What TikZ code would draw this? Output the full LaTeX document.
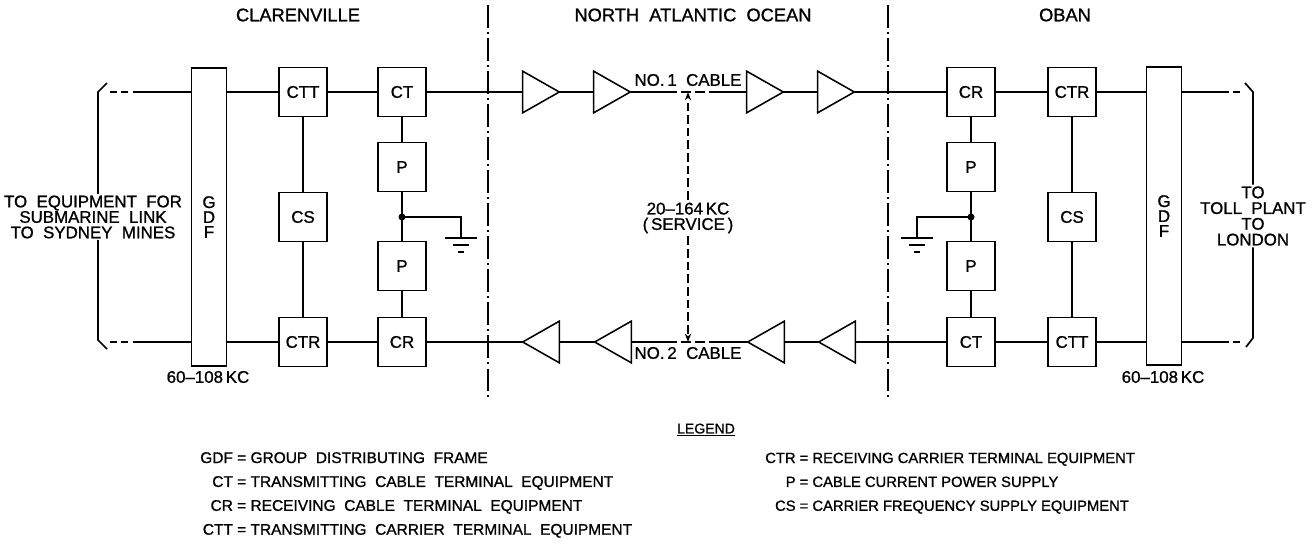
\documentclass[tikz,border=0pt]{standalone}
\usepackage{fontspec}
\setmainfont{Liberation Sans}[FakeBold=1]
\usetikzlibrary{calc,arrows.meta}
\def\earth(#1){\draw[line width=1.2pt] ($(#1)+(-16,0)$) -- ++(32,0) ($(#1)+(-8,7)$) -- ++(16,0) ($(#1)+(-3,14)$) -- ++(6,0);}

\begin{document}
\begin{tikzpicture}[x=0.025cm, y=-0.025cm,
		box/.style={draw, line width=1.2pt, minimum width=1.2cm, minimum height=1.22cm, inner sep=0pt, font=\fontsize{12}{14}\selectfont},
		gdf/.style={draw, line width=1.2pt, minimum width=0.88cm, minimum height=7.45cm, inner sep=0pt, align=center, font=\fontsize{12}{10.6}\selectfont},
		amp/.style={minimum width=0.9cm, minimum height=1.025cm, inner sep=0pt},
		tri/.style={line width=1.1pt, line join=miter},
		cable/.style={line width=1.7pt},
		wire/.style={line width=1.5pt},
		brk/.style={line width=1.2pt},
		divider/.style={line width=1pt, dash pattern=on 16pt off 3pt on 1.5pt off 3pt},
		lbl/.style={font=\fontsize{12}{11}\selectfont, align=center, inner sep=1pt},
		title/.style={font=\fontsize{13}{15}\selectfont},
		legend/.style={font=\fontsize{11}{17}\selectfont, inner sep=0pt, anchor=north west}]
			%%%%% START %%%%%
			\useasboundingbox (0,0) rectangle (1315,547);
			
			\node[title] (clar) at (298,15) {CLARENVILLE};
			\node[title] (ocean) at (693,15) {NORTH\ \ ATLANTIC\ \ OCEAN};
			\node[title] (oban) at (1065,15) {OBAN};
			
			\draw[divider] (488,5) -- (488,398);
			\draw[divider] (888,5) -- (888,398);
			
			% clarenville
			\node[gdf] (gdfL) at (209,217) {G\\D\\F};
			\node[box] (cttL) at (303,92) {CTT};
			\node[box] (ctL) at (402,92) {CT};
			\node[box] (csL) at (303,217) {CS};
			\node[box] (p1L) at (402,167) {P};
			\node[box] (p2L) at (402,266) {P};
			\node[box] (ctrL) at (303,342) {CTR};
			\node[box] (crL) at (402,342) {CR};
			\node[lbl] (kcL) at (208,377) {60--108\,KC};
			
			% oban
			\node[gdf] (gdfR) at (1164,216) {G\\D\\F};
			\node[box] (crR) at (971,92) {CR};
			\node[box] (ctrR) at (1072,92) {CTR};
			\node[box] (p1R) at (971,167) {P};
			\node[box] (p2R) at (971,266) {P};
			\node[box] (csR) at (1072,217) {CS};
			\node[box] (ctR) at (971,342) {CT};
			\node[box] (cttR) at (1072,342) {CTT};
			\node[lbl] (kcR) at (1163,377) {60--108\,KC};
			
			% repeaters
			\node[amp] (a1) at (541,92) {};
			\node[amp] (a2) at (612,92) {};
			\node[amp] (a3) at (765,92) {};
			\node[amp] (a4) at (836,92) {};
			\node[amp] (b1) at (541,342) {};
			\node[amp] (b2) at (613,342) {};
			\node[amp] (b3) at (766,342) {};
			\node[amp] (b4) at (837,342) {};
			\foreach \n in {a1,a2,a3,a4}
				\draw[tri] (\n.north west) -- (\n.east) -- (\n.south west) -- cycle;
			\foreach \n in {b1,b2,b3,b4}
				\draw[tri] (\n.north east) -- (\n.west) -- (\n.south east) -- cycle;
			
			\coordinate (d1) at (667,92);
			\coordinate (d2) at (713,92);
			\coordinate (d3) at (667,342);
			\coordinate (d4) at (713,342);
			
			\node[lbl] (no1) at (688,80) {NO.\,1\ \ CABLE};
			\node[lbl] (no2) at (688,353) {NO.\,2\ \ CABLE};
			\node[lbl, inner sep=2pt] (svc) at (688,218) {20--164\,KC\\(\,SERVICE\,)};
			
			% end texts
			\node[lbl] (eqL) at (93,217) {TO\ \ EQUIPMENT\ \ FOR\\SUBMARINE\ \ LINK\\TO\ \ SYDNEY\ \ MINES};
			\node[lbl, font=\fontsize{12}{11.2}\selectfont] (tollR) at (1253,216) {TO\\TOLL\ \ PLANT\\TO\\LONDON};
			
			\coordinate (tl1) at (110,92);
			\coordinate (tl2) at (137,92);
			\coordinate (bl1) at (110,342);
			\coordinate (bl2) at (137,342);
			\coordinate (tr1) at (1243,92);
			\coordinate (tr2) at (1222,92);
			\coordinate (br1) at (1243,342);
			\coordinate (br2) at (1222,342);
			
			% no.1 cable
			\draw[cable, dash pattern=on 5pt off 3pt] (tl1) -- (tl2);
			\draw[cable] (tl2) -- (tl2 -| gdfL.west);
			\draw[cable] (gdfL.east |- cttL) -- (cttL) -- (ctL) -- (a1) -- (a2) -- (d1);
			\draw[cable, dash pattern=on 7pt off 3pt] (d1) -- (d2);
			\draw[cable] (d2) -- (a3) -- (a4) -- (crR) -- (ctrR) -- (ctrR -| gdfR.west);
			\draw[cable] (gdfR.east |- tr2) -- (tr2);
			\draw[cable, dash pattern=on 5pt off 3pt] (tr2) -- (tr1);
			
			% no.2 cable
			\draw[cable, dash pattern=on 5pt off 3pt] (bl1) -- (bl2);
			\draw[cable] (bl2) -- (bl2 -| gdfL.west);
			\draw[cable] (gdfL.east |- ctrL) -- (ctrL) -- (crL) -- (b1) -- (b2) -- (d3);
			\draw[cable, dash pattern=on 7pt off 3pt] (d3) -- (d4);
			\draw[cable] (d4) -- (b3) -- (b4) -- (ctR) -- (cttR) -- (cttR -| gdfR.west);
			\draw[cable] (gdfR.east |- br2) -- (br2);
			\draw[cable, dash pattern=on 5pt off 3pt] (br2) -- (br1);
			
			% verticals
			\draw[wire] (cttL) -- (csL) -- (ctrL);
			\draw[wire] (ctL) -- (p1L) -- (p2L) -- (crL);
			\draw[wire] (crR) -- (p1R) -- (p2R) -- (ctR);
			\draw[wire] (ctrR) -- (csR) -- (cttR);
			
			% power supply earths
			\coordinate (jL) at (402,217);
			\coordinate (gL) at (461,238);
			\fill (jL) circle (3.5);
			\draw[wire] (jL) -- (gL |- jL) -- (gL);
			\earth(gL)
			\coordinate (jR) at (971,217);
			\coordinate (gR) at (917,238);
			\fill (jR) circle (3.5);
			\draw[wire] (jR) -- (gR |- jR) -- (gR);
			\earth(gR)
			
			% service band
			\draw[line width=1pt, dash pattern=on 6pt off 3pt, -{Stealth[length=6pt,width=4.5pt]}] (svc.north) -- (svc.north |- a2);
			\draw[line width=1pt, dash pattern=on 6pt off 3pt, -{Stealth[length=6pt,width=4.5pt]}] (svc.south) -- (svc.south |- b2);
			
			% brackets
			\draw[brk] (107,83) -- (98,92) -- (eqL.north -| 98,0);
			\draw[brk] (eqL.south -| 98,0) -- (98,340) -- (107,349);
			\draw[brk] (1245,83) -- (1253,92) -- (tollR.north);
			\draw[brk] (tollR.south) -- (1253,338) -- (1246,347);
			
			% legend
			\node[font=\fontsize{10}{12}\selectfont] (legtitle) at (706,430) {\underline{LEGEND}};
			\node[legend] (legL) at (200,446) {\begin{tabular}{@{}r@{ = }l@{}}
				GDF & GROUP\ \ DISTRIBUTING\ \ FRAME\\
				CT & TRANSMITTING\ \ CABLE\ \ TERMINAL\ \ EQUIPMENT\\
				CR & RECEIVING\ \ CABLE\ \ TERMINAL\ \ EQUIPMENT\\
				CTT & TRANSMITTING\ \ CARRIER\ \ TERMINAL\ \ EQUIPMENT
			\end{tabular}};
			\node[legend, font=\fontsize{10.5}{17}\selectfont] (legR) at (765,446) {\begin{tabular}{@{}r@{ = }l@{}}
				CTR & RECEIVING CARRIER TERMINAL EQUIPMENT\\
				P & CABLE CURRENT POWER SUPPLY\\
				CS & CARRIER FREQUENCY SUPPLY EQUIPMENT
			\end{tabular}};
			
			%%%%% END %%%%%
\end{tikzpicture}
\end{document}
